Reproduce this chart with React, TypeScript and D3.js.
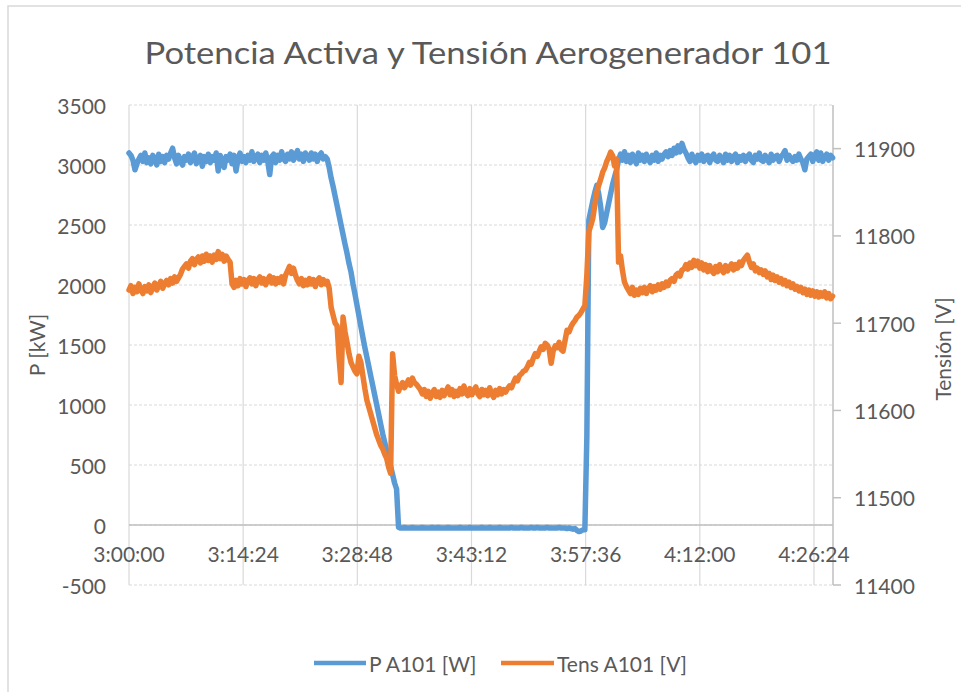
import React from 'react';
import * as d3 from 'd3';

const TITLE = 'Potencia Activa y Tensión Aerogenerador 101';
const X_TICK_LABELS = ['3:00:00', '3:14:24', '3:28:48', '3:43:12', '3:57:36', '4:12:00', '4:26:24'];
const X_TICK_STEP_MIN = 14.4;
const X_MAX_MIN = 88.8;
const SAMPLE_STEP_MIN = 0.25;
const P_TICKS = [-500, 0, 500, 1000, 1500, 2000, 2500, 3000, 3500];
const V_TICKS = [11400, 11500, 11600, 11700, 11800, 11900];
const SERIES_NAMES = ['P A101 [W]', 'Tens A101 [V]'];

// Potencia activa [kW], one sample every 15 s from 3:00:00
const powerKW = [
  3100, 3080, 3040, 2960, 3010, 3050, 3080, 3030, 3100, 3020,
  3060, 3010, 3080, 3050, 3000, 3090, 3030, 3070, 3020, 3080,
  3050, 3100, 3140, 3060, 3010, 3080, 3030, 3000, 3070, 3040,
  3090, 3020, 3060, 3100, 3010, 3050, 3080, 2990, 3070, 3030,
  3090, 3020, 3070, 3040, 3100, 2950, 3080, 3030, 2980, 3070,
  3040, 3090, 3010, 3080, 2950, 3050, 3100, 3030, 3070, 3020,
  3080, 3040, 3110, 3030, 3070, 3090, 3020, 3080, 3040, 3100,
  3030, 2920, 3070, 3090, 3020, 3080, 3040, 3110, 3050, 3030,
  3090, 3050, 3110, 3040, 3080, 3120, 3050, 3090, 3030, 3100,
  3070, 3040, 3100, 3050, 3090, 3030, 3080, 3100, 3050, 3070,
  3050, 2980, 2890, 2820, 2740, 2660, 2580, 2500, 2420, 2340,
  2265, 2180, 2110, 2010, 1925, 1835, 1745, 1655, 1565, 1480,
  1400, 1320, 1240, 1160, 1080, 1000, 920, 840, 760, 690,
  620, 555, 490, 420, 350, 300,
  -20, -25, -25, -20, -25, -25, -25, -20, -25, -25,
  -25, -25, -20, -25, -25, -25, -25, -20, -25, -25,
  -20, -25, -25, -25, -25, -20, -25, -25, -25, -25,
  -25, -20, -25, -25, -25, -25, -20, -25, -25, -25,
  -25, -25, -20, -25, -25, -25, -20, -25, -25, -25,
  -25, -20, -25, -25, -25, -25, -25, -20, -25, -25,
  -25, -25, -20, -25, -25, -25, -25, -20, -25, -25,
  -20, -25, -25, -25, -25, -20, -25, -25, -25, -25,
  -25, -20, -25, -25, -25, -30, -25, -30, -35, -30,
  -45, -55, -50, -40, -40, 730,
  2540, 2620, 2700, 2770, 2830, 2760, 2650, 2480, 2520, 2600,
  2680, 2760, 2840, 2900, 2960, 3040, 3090, 3040, 3110, 3030,
  3080, 3020, 3090, 3050, 3010, 3100, 3040, 3080, 3030, 3090,
  3050, 3020, 3080, 3040, 3100, 3030, 3080, 3050, 3090, 3110,
  3070, 3120, 3080, 3140, 3100, 3160, 3110, 3180, 3130, 3100,
  3060, 3030, 3090, 3050, 3020, 3080, 3040, 3090, 3030, 3070,
  3080, 3020, 3070, 3090, 3040, 3030, 3080, 3050, 3020, 3090,
  3040, 3080, 3030, 3070, 3090, 3020, 3070, 3040, 3080, 3030,
  3070, 3090, 3040, 3020, 3080, 3050, 3100, 3040, 3030, 3080,
  3050, 3020, 3090, 3040, 3070, 3080, 3030, 3070, 3090, 3120,
  3040, 3080, 3050, 3030, 3070, 3040, 3090, 3050, 3020, 2960,
  3050, 3070, 3090, 3030, 3080, 3110, 3040, 3100, 3030, 3070,
  3090, 3040, 3080, 3060,
];

// Tensión [V], one sample every 15 s from 3:00:00
const voltageV = [
  11738, 11743, 11734, 11741, 11736, 11745, 11738, 11734, 11742, 11737,
  11744, 11735, 11741, 11746, 11738, 11743, 11748, 11740, 11745, 11749,
  11744, 11751, 11746, 11753, 11748, 11752, 11756, 11762, 11765, 11768,
  11763, 11771, 11774, 11767, 11773, 11776, 11769, 11777, 11771, 11779,
  11772, 11777, 11770, 11778, 11773, 11782, 11774, 11779, 11771, 11777,
  11773, 11770, 11745, 11741, 11749, 11743, 11751, 11745, 11750, 11742,
  11749, 11752, 11745, 11751, 11743, 11750, 11753, 11746, 11751, 11744,
  11750, 11754, 11746, 11752, 11745, 11751, 11747, 11753, 11745, 11755,
  11760, 11765, 11757, 11763, 11755, 11749, 11745, 11751, 11743, 11749,
  11744, 11751, 11745, 11750, 11742, 11749, 11752, 11744, 11750, 11745,
  11748, 11740, 11718, 11709, 11700, 11697, 11660, 11632, 11707, 11690,
  11678, 11665, 11655, 11650, 11645, 11642, 11662, 11655, 11640, 11625,
  11612, 11604, 11596, 11588, 11580, 11572, 11566, 11560, 11556, 11550,
  11545, 11535, 11528, 11665, 11640, 11630, 11622, 11628, 11632, 11626,
  11630, 11635, 11629, 11637, 11632, 11630, 11627, 11624, 11619, 11624,
  11616, 11622, 11614, 11620, 11624, 11616, 11621, 11615, 11623, 11617,
  11622, 11627, 11618, 11624, 11616, 11622, 11617, 11625, 11619, 11628,
  11620, 11617, 11625, 11618, 11623, 11627, 11619, 11616, 11624, 11618,
  11623, 11617, 11626, 11619, 11615, 11623, 11618, 11625, 11619, 11624,
  11621, 11625, 11628, 11626, 11632, 11637, 11634, 11640, 11642, 11645,
  11646, 11650, 11655, 11653, 11660, 11665, 11662, 11668, 11673, 11670,
  11677, 11675, 11670, 11654, 11668, 11674, 11672, 11678, 11670, 11668,
  11680, 11692, 11690, 11696, 11700, 11703, 11707, 11709, 11712, 11716,
  11720, 11755, 11805, 11812, 11820, 11835, 11850, 11858, 11865, 11873,
  11878, 11885, 11890, 11896, 11892, 11880, 11888, 11770, 11777, 11760,
  11747, 11742, 11738, 11734, 11741, 11732, 11738, 11733, 11740, 11735,
  11741, 11734, 11739, 11743, 11736, 11742, 11738, 11744, 11739, 11745,
  11741, 11747, 11743, 11749, 11751, 11748, 11755, 11757, 11754, 11761,
  11762, 11767, 11762, 11769, 11764, 11772, 11766, 11771, 11763, 11769,
  11761, 11767, 11759, 11766, 11760, 11757, 11765, 11759, 11767, 11761,
  11758, 11766, 11760, 11764, 11768, 11761, 11767, 11763, 11770, 11766,
  11772, 11775, 11778, 11770, 11764, 11768, 11760, 11763, 11758, 11761,
  11756, 11760, 11753, 11757, 11750, 11755, 11749, 11753, 11747, 11751,
  11745, 11749, 11743, 11747, 11741, 11745, 11739, 11742, 11737, 11741,
  11735, 11739, 11733, 11738, 11732, 11737, 11731, 11736, 11730, 11735,
  11731, 11736, 11729, 11734, 11728, 11731,
];

const W = 961;
const H = 692;
const PLOT = { left: 129, right: 833, top: 105, bottom: 585 };
const BLUE = '#5B9BD5';
const ORANGE = '#ED7D31';
const TEXT = '#595959';
const GRID = '#d9d9d9';
const AXIS = '#bfbfbf';
const FONT = "Lato, 'Open Sans', sans-serif";

export default function App() {
  const x = d3.scaleLinear().domain([0, X_MAX_MIN]).range([PLOT.left, PLOT.right]);
  const yP = d3.scaleLinear().domain([-500, 3500]).range([PLOT.bottom, PLOT.top]);
  const yV = d3.scaleLinear().domain([11400, 11950]).range([PLOT.bottom, PLOT.top]);

  const lineP = d3
    .line<number>()
    .x((_, i) => x(i * SAMPLE_STEP_MIN))
    .y((d) => yP(d));
  const lineV = d3
    .line<number>()
    .x((_, i) => x(i * SAMPLE_STEP_MIN))
    .y((d) => yV(d));

  const xTicks = X_TICK_LABELS.map((label, i) => ({ label, m: i * X_TICK_STEP_MIN }));

  return (
    <svg
      width={W}
      height={H}
      style={{ position: 'absolute', left: 0, top: 0, background: '#fff' }}
      fontFamily={FONT}
    >
      <rect x={0} y={0} width={W} height={H} fill="#fff" />
      <rect x={8} y={6} width={W + 20} height={H + 20} fill="none" stroke={GRID} strokeWidth={1.5} />

      <text
        x={488}
        y={52}
        textAnchor="middle"
        dominantBaseline="central"
        fontSize={30}
        fill={TEXT}
        textLength={687}
        lengthAdjust="spacingAndGlyphs"
      >
        {TITLE}
      </text>

      {P_TICKS.map((t) => (
        <line
          key={'h' + t}
          x1={PLOT.left}
          x2={PLOT.right}
          y1={yP(t)}
          y2={yP(t)}
          stroke={GRID}
          strokeWidth={1.2}
          strokeDasharray="3,2"
        />
      ))}
      {xTicks.map((t) => (
        <line
          key={'v' + t.label}
          x1={x(t.m)}
          x2={x(t.m)}
          y1={PLOT.top}
          y2={PLOT.bottom}
          stroke={GRID}
          strokeWidth={1.2}
        />
      ))}

      <line x1={PLOT.left} x2={PLOT.right} y1={yP(0)} y2={yP(0)} stroke={AXIS} strokeWidth={1.5} />
      <line x1={PLOT.right} x2={PLOT.right} y1={PLOT.top} y2={PLOT.bottom} stroke={AXIS} strokeWidth={1.5} />
      {V_TICKS.map((t) => (
        <line key={'vt' + t} x1={PLOT.right} x2={PLOT.right + 8} y1={yV(t)} y2={yV(t)} stroke={AXIS} strokeWidth={1.5} />
      ))}

      {P_TICKS.map((t) => (
        <text key={'pl' + t} x={106} y={yP(t)} textAnchor="end" dominantBaseline="central" fontSize={21} fill={TEXT}>
          {t}
        </text>
      ))}
      {V_TICKS.map((t) => (
        <text key={'vl' + t} x={854} y={yV(t)} textAnchor="start" dominantBaseline="central" fontSize={21} fill={TEXT}>
          {t}
        </text>
      ))}
      {xTicks.map((t) => (
        <text key={'xl' + t.label} x={x(t.m)} y={553} textAnchor="middle" dominantBaseline="central" fontSize={21} fill={TEXT}>
          {t.label}
        </text>
      ))}

      <text transform="translate(36,345) rotate(-90)" textAnchor="middle" dominantBaseline="central" fontSize={21} fill={TEXT}>
        P [kW]
      </text>
      <text transform="translate(942,349) rotate(-90)" textAnchor="middle" dominantBaseline="central" fontSize={21} fill={TEXT}>
        Tensión [V]
      </text>

      <path d={lineP(powerKW) || ''} fill="none" stroke={BLUE} strokeWidth={5.5} strokeLinejoin="round" strokeLinecap="round" />
      <path d={lineV(voltageV) || ''} fill="none" stroke={ORANGE} strokeWidth={5.5} strokeLinejoin="round" strokeLinecap="round" />

      <line x1={314} x2={366} y1={663} y2={663} stroke={BLUE} strokeWidth={4.5} />
      <text x={369} y={663} dominantBaseline="central" fontSize={21} fill={TEXT}>
        {SERIES_NAMES[0]}
      </text>
      <line x1={501} x2={554} y1={663} y2={663} stroke={ORANGE} strokeWidth={4.5} />
      <text x={557} y={663} dominantBaseline="central" fontSize={21} fill={TEXT}>
        {SERIES_NAMES[1]}
      </text>
    </svg>
  );
}
